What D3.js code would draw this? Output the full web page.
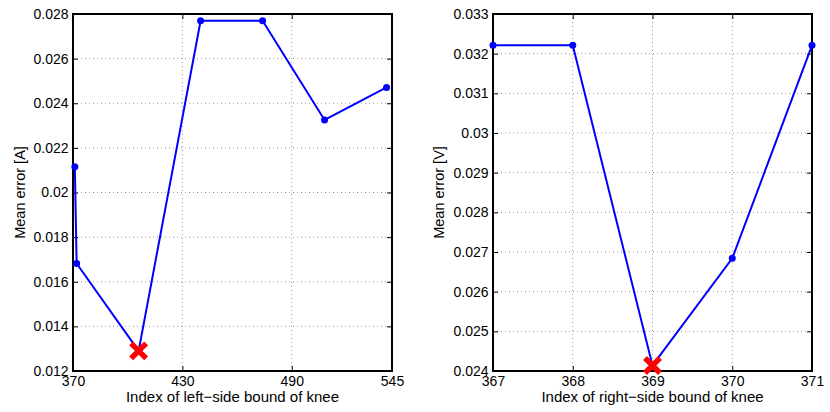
<!DOCTYPE html>
<html><head><meta charset="utf-8">
<script src="https://cdn.jsdelivr.net/npm/d3@7"></script>
<style>body{margin:0;background:#fff}svg{display:block}text{font-family:"Liberation Sans",Arial,sans-serif;fill:#000}</style>
</head><body>
<svg id="c" width="830" height="412"></svg>
<script>
// Left panel data
const leftX = [371, 372, 406, 440, 474, 508, 542];
const leftY = [0.02115, 0.01682, 0.01290, 0.02770, 0.02770, 0.02325, 0.02471];
const leftBest = [406, 0.01290];
const leftXTicks = [370, 430, 490, 545];
const leftYTicks = [0.012, 0.014, 0.016, 0.018, 0.020, 0.022, 0.024, 0.026, 0.028];
const leftYTickLabels = ["0.012","0.014","0.016","0.018","0.02","0.022","0.024","0.026","0.028"];
const leftXLabel = "Index of left\u2212side bound of knee";
const leftYLabel = "Mean error [A]";

// Right panel data
const rightX = [367, 368, 369, 370, 371];
const rightY = [0.03221, 0.03221, 0.02414, 0.02684, 0.03221];
const rightBest = [369, 0.02414];
const rightXTicks = [367, 368, 369, 370, 371];
const rightYTicks = [0.024, 0.025, 0.026, 0.027, 0.028, 0.029, 0.030, 0.031, 0.032, 0.033];
const rightYTickLabels = ["0.024","0.025","0.026","0.027","0.028","0.029","0.03","0.031","0.032","0.033"];
const rightXLabel = "Index of right\u2212side bound of knee";
const rightYLabel = "Mean error [V]";

const svg = d3.select("#c");

function panel(o) {
  const g = svg.append("g");
  const x = d3.scaleLinear().domain(o.xDomain).range([o.left, o.right]);
  const y = d3.scaleLinear().domain(o.yDomain).range([o.bottom, o.top]);
  // grid
  g.selectAll(".gx").data(o.xTicks).enter().append("line")
    .attr("x1", d => x(d)).attr("x2", d => x(d)).attr("y1", o.top).attr("y2", o.bottom)
    .attr("stroke", "#999").attr("stroke-width", 1).attr("stroke-dasharray", "1,3");
  g.selectAll(".gy").data(o.yTicks).enter().append("line")
    .attr("y1", d => y(d)).attr("y2", d => y(d)).attr("x1", o.left).attr("x2", o.right)
    .attr("stroke", "#999").attr("stroke-width", 1).attr("stroke-dasharray", "1,3");
  // axes via d3 axes (inner ticks)
  const xa = d3.axisBottom(x).tickValues(o.xTicks).tickSize(-5).tickPadding(5).tickFormat(d3.format("d"));
  const xt = d3.axisTop(x).tickValues(o.xTicks).tickSize(-5).tickFormat("");
  const ya = d3.axisLeft(y).tickValues(o.yTicks).tickSize(-5).tickPadding(4.5).tickFormat((d, i) => o.yLabels[i]);
  const yr = d3.axisRight(y).tickValues(o.yTicks).tickSize(-5).tickFormat("");
  const style = sel => {
    sel.selectAll("path").remove();
    sel.selectAll("line").attr("stroke", "#000").attr("stroke-width", 1);
    sel.selectAll("text").attr("font-size", 14).attr("font-family", "Liberation Sans, Arial, sans-serif").attr("fill", "#000");
  };
  g.append("g").attr("transform", `translate(0,${o.bottom})`).call(xa).call(style);
  g.append("g").attr("transform", `translate(0,${o.top})`).call(xt).call(style);
  g.append("g").attr("transform", `translate(${o.left},0)`).call(ya).call(style);
  g.append("g").attr("transform", `translate(${o.right},0)`).call(yr).call(style);
  // box
  g.append("rect").attr("x", o.left).attr("y", o.top).attr("width", o.right - o.left).attr("height", o.bottom - o.top)
    .attr("fill", "none").attr("stroke", "#000").attr("stroke-width", 2);
  // line
  const pts = o.xs.map((d, i) => [d, o.ys[i]]);
  g.append("path").datum(pts)
    .attr("d", d3.line().x(d => x(d[0])).y(d => y(d[1])))
    .attr("fill", "none").attr("stroke", "#0000ff").attr("stroke-width", 2);
  g.selectAll(".dot").data(pts).enter().append("circle")
    .attr("cx", d => x(d[0])).attr("cy", d => y(d[1])).attr("r", 3.5).attr("fill", "#0000ff");
  // best marker (X)
  const bx = x(o.best[0]), by = y(o.best[1]), s = 7.5;
  g.append("path")
    .attr("d", `M${bx - s},${by - s}L${bx + s},${by + s}M${bx - s},${by + s}L${bx + s},${by - s}`)
    .attr("stroke", "#ff0000").attr("stroke-width", 5.5).attr("fill", "none");
  // labels
  g.append("text").attr("x", (o.left + o.right) / 2).attr("y", 402).attr("text-anchor", "middle")
    .attr("font-size", 15).text(o.xLabel);
  g.append("text").attr("transform", `translate(${o.yLabelX},${(o.top + o.bottom) / 2}) rotate(-90)`)
    .attr("text-anchor", "middle").attr("font-size", 14.5).text(o.yLabel);
}

panel({left: 73, right: 392, top: 14, bottom: 371, xDomain: [370, 545], yDomain: [0.012, 0.028],
  xTicks: leftXTicks, yTicks: leftYTicks, yLabels: leftYTickLabels, xs: leftX, ys: leftY, best: leftBest,
  xLabel: leftXLabel, yLabel: leftYLabel, yLabelX: 25});
panel({left: 493, right: 812, top: 14, bottom: 371, xDomain: [367, 371], yDomain: [0.024, 0.033],
  xTicks: rightXTicks, yTicks: rightYTicks, yLabels: rightYTickLabels, xs: rightX, ys: rightY, best: rightBest,
  xLabel: rightXLabel, yLabel: rightYLabel, yLabelX: 444});
</script>
</body></html>
